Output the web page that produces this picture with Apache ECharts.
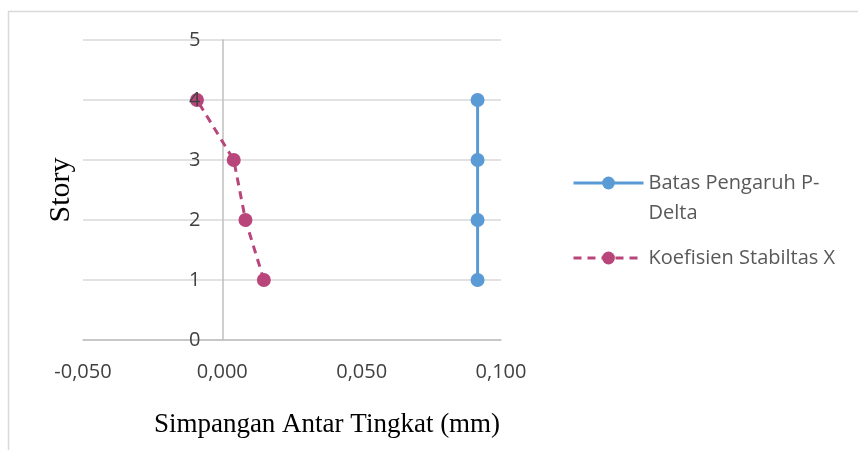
<!DOCTYPE html>
<html>
<head>
<meta charset="utf-8">
<script src="https://cdn.jsdelivr.net/npm/echarts@6/dist/echarts.min.js"></script>
<style>
  html, body { margin: 0; padding: 0; background: #fff; }
  #chart { width: 858px; height: 450px; }
</style>
</head>
<body>
<div id="chart"></div>
<script>
// story levels and values
const stories = [1, 2, 3, 4]
const batasPDelta = [0.0916, 0.0916, 0.0916, 0.0916]
const koefStabilitasX = [0.0149, 0.0083, 0.0041, -0.0091]
const seriesNames = ['Batas Pengaruh P-Delta', 'Koefisien Stabiltas X']

const toPairs = (xs) => xs.map((v, i) => [v, stories[i]])
const fmtComma = (v) => v.toFixed(3).replace('.', ',')

const labelFont = 'Open Sans, Noto Sans, sans-serif'
const yScale = { type: 'value', min: 0, max: 5, interval: 1, position: 'left', offset: -139.33 }

const chart = echarts.init(document.getElementById('chart'))
chart.setOption({
  animation: false,
  backgroundColor: '#fff',
  graphic: [{
    type: 'rect',
    shape: { x: 8.5, y: 11.5, width: 900, height: 500 },
    style: { fill: 'none', stroke: '#d9d9d9', lineWidth: 1.5 }
  }],
  grid: { left: 83, right: 357, top: 40, bottom: 110, containLabel: false, outerBoundsMode: 'none' },
  legend: {
    orient: 'vertical',
    left: 567,
    top: 133,
    itemWidth: 70,
    itemHeight: 16,
    itemGap: 15,
    lineStyle: { width: 3 },
    data: seriesNames,
    // blank first line keeps the first text line level with the icon
    formatter: (n) => n === seriesNames[0] ? ' \nBatas Pengaruh P-\nDelta' : n,
    textStyle: { fontFamily: labelFont, fontSize: 20, color: '#595959', lineHeight: 30 }
  },
  xAxis: {
    type: 'value',
    min: -0.05,
    max: 0.1,
    interval: 0.05,
    name: 'Simpangan Antar Tingkat (mm)',
    nameLocation: 'middle',
    nameGap: 71,
    nameTextStyle: { fontFamily: 'Liberation Serif, serif', fontSize: 27, color: '#000', padding: [0, 0, 0, 70] },
    axisLine: { show: true, lineStyle: { color: '#bfbfbf', width: 1.5 } },
    axisTick: { show: false },
    splitLine: { show: false },
    axisLabel: {
      formatter: fmtComma,
      margin: 22,
      fontFamily: labelFont,
      fontSize: 20,
      color: '#404040'
    }
  },
  yAxis: [
    {
      // lines and gridlines, under the series
      ...yScale,
      axisLine: { show: true, onZero: false, lineStyle: { color: '#bfbfbf', width: 1.5 } },
      axisTick: { show: false },
      axisLabel: { show: false },
      splitLine: { show: true, lineStyle: { color: '#d9d9d9', width: 1.5 } }
    },
    {
      // labels and name, drawn over the markers
      ...yScale,
      z: 10,
      name: 'Story',
      nameLocation: 'middle',
      nameRotate: 90,
      nameGap: 146,
      nameTextStyle: { fontFamily: 'Liberation Serif, serif', fontSize: 30, color: '#000' },
      axisLine: { show: false },
      axisTick: { show: false },
      splitLine: { show: false },
      axisLabel: {
        margin: 22,
        fontFamily: labelFont,
        fontSize: 20,
        color: '#404040'
      }
    }
  ],
  series: [
    {
      name: seriesNames[0],
      type: 'line',
      data: toPairs(batasPDelta),
      symbol: 'circle',
      symbolSize: 14,
      color: '#5b9bd5',
      lineStyle: { width: 3, color: '#5b9bd5' },
      itemStyle: { color: '#5b9bd5' }
    },
    {
      name: seriesNames[1],
      type: 'line',
      data: toPairs(koefStabilitasX),
      symbol: 'circle',
      symbolSize: 14,
      color: '#b9467a',
      lineStyle: { width: 3, type: [8, 6], color: '#b9467a' },
      itemStyle: { color: '#b9467a' }
    }
  ]
})
</script>
</body>
</html>
